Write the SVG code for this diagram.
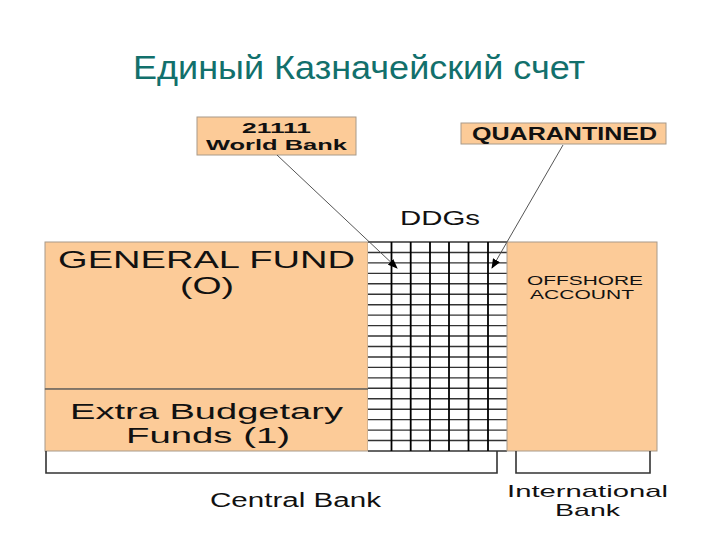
<svg xmlns="http://www.w3.org/2000/svg" width="720" height="540" viewBox="0 0 720 540">
<style>
.t{font-family:"Liberation Sans",Arial,sans-serif;fill:#111;}
.b{font-weight:bold;}
.box{fill:#FCCB98;stroke:#a89a8a;stroke-width:1;}
.hl{stroke:#333;stroke-width:1.4;}
.vl{stroke:#000;stroke-width:1.8;}
.br{fill:none;stroke:#333;stroke-width:1.6;}
.conn{stroke:#555;stroke-width:1;fill:none;}
</style>
<defs>
<marker id="ah" markerWidth="10" markerHeight="8" refX="9" refY="4" orient="auto" markerUnits="userSpaceOnUse">
<path d="M0,0 L10,4 L0,8 Z" fill="#000"/>
</marker>
</defs>
<rect width="720" height="540" fill="#fff"/>
<text x="359" y="79" text-anchor="middle" class="t" style="fill:#12706c" font-size="34" textLength="452" lengthAdjust="spacingAndGlyphs">Единый Казначейский счет</text>

<g id="general-fund">
<rect class="box" x="45" y="242" width="323" height="147"/>
<text class="t" x="206.5" y="268" text-anchor="middle" font-size="24" textLength="297" lengthAdjust="spacingAndGlyphs">GENERAL FUND</text>
<text class="t" x="207" y="294" text-anchor="middle" font-size="24" textLength="54" lengthAdjust="spacingAndGlyphs">(O)</text>
</g>
<g id="extra-budgetary">
<rect class="box" x="45" y="389" width="323" height="62"/>
<line x1="45" y1="389" x2="368" y2="389" stroke="#444" stroke-width="1.2"/>
<text class="t" x="206.5" y="419" text-anchor="middle" font-size="22" textLength="273" lengthAdjust="spacingAndGlyphs">Extra Budgetary</text>
<text class="t" x="208" y="443" text-anchor="middle" font-size="22" textLength="164" lengthAdjust="spacingAndGlyphs">Funds (1)</text>
</g>
<g id="ddgs">
<rect x="368" y="242" width="139" height="209" fill="#fff"/>
<g class="hl">
<line x1="368" y1="242" x2="507" y2="242"/><line x1="368" y1="252.45" x2="507" y2="252.45"/>
<line x1="368" y1="262.9" x2="507" y2="262.9"/><line x1="368" y1="273.35" x2="507" y2="273.35"/>
<line x1="368" y1="283.8" x2="507" y2="283.8"/><line x1="368" y1="294.25" x2="507" y2="294.25"/>
<line x1="368" y1="304.7" x2="507" y2="304.7"/><line x1="368" y1="315.15" x2="507" y2="315.15"/>
<line x1="368" y1="325.6" x2="507" y2="325.6"/><line x1="368" y1="336.05" x2="507" y2="336.05"/>
<line x1="368" y1="346.5" x2="507" y2="346.5"/><line x1="368" y1="356.95" x2="507" y2="356.95"/>
<line x1="368" y1="367.4" x2="507" y2="367.4"/><line x1="368" y1="377.85" x2="507" y2="377.85"/>
<line x1="368" y1="388.3" x2="507" y2="388.3"/><line x1="368" y1="398.75" x2="507" y2="398.75"/>
<line x1="368" y1="409.2" x2="507" y2="409.2"/><line x1="368" y1="419.65" x2="507" y2="419.65"/>
<line x1="368" y1="430.1" x2="507" y2="430.1"/><line x1="368" y1="440.55" x2="507" y2="440.55"/>
<line x1="368" y1="451" x2="507" y2="451"/>
</g>
<g class="vl">
<line x1="391.5" y1="242" x2="391.5" y2="451"/><line x1="410.7" y1="242" x2="410.7" y2="451"/>
<line x1="430" y1="242" x2="430" y2="451"/><line x1="449" y1="242" x2="449" y2="451"/>
<line x1="468.5" y1="242" x2="468.5" y2="451"/><line x1="488" y1="242" x2="488" y2="451"/>
</g>
<text class="t" x="440" y="225" text-anchor="middle" font-size="20" textLength="80" lengthAdjust="spacingAndGlyphs">DDGs</text>
</g>
<g id="offshore">
<rect class="box" x="507" y="242" width="150" height="209"/>
<text class="t" x="585" y="285" text-anchor="middle" font-size="13" textLength="116" lengthAdjust="spacingAndGlyphs">OFFSHORE</text>
<text class="t" x="582" y="299" text-anchor="middle" font-size="13" textLength="104" lengthAdjust="spacingAndGlyphs">ACCOUNT</text>
</g>
<g id="world-bank">
<rect class="box" x="197" y="117" width="159" height="38"/>
<text class="t b" x="276.5" y="133" text-anchor="middle" font-size="15.5" textLength="69" lengthAdjust="spacingAndGlyphs">21111</text>
<text class="t b" x="276.5" y="150" text-anchor="middle" font-size="15.5" textLength="141" lengthAdjust="spacingAndGlyphs">World Bank</text>
</g>
<g id="quarantined">
<rect class="box" x="461" y="123" width="205" height="21"/>
<text class="t b" x="564.5" y="140" text-anchor="middle" font-size="18" textLength="185" lengthAdjust="spacingAndGlyphs">QUARANTINED</text>
</g>
<g id="central-bank">
<path class="br" d="M46,451 V473 H497 V451"/>
<text class="t" x="295.5" y="507" text-anchor="middle" font-size="20" textLength="171" lengthAdjust="spacingAndGlyphs">Central Bank</text>
</g>
<g id="international-bank">
<path class="br" d="M516,451 V473 H650 V451"/>
<text class="t" x="587.5" y="497" text-anchor="middle" font-size="17" textLength="161" lengthAdjust="spacingAndGlyphs">International</text>
<text class="t" x="587.5" y="516" text-anchor="middle" font-size="17" textLength="65" lengthAdjust="spacingAndGlyphs">Bank</text>
</g>
<g id="connectors">
<line class="conn" x1="277" y1="155" x2="397" y2="268" marker-end="url(#ah)"/>
<line class="conn" x1="563" y1="145" x2="492" y2="268" marker-end="url(#ah)"/>
</g>
</svg>
